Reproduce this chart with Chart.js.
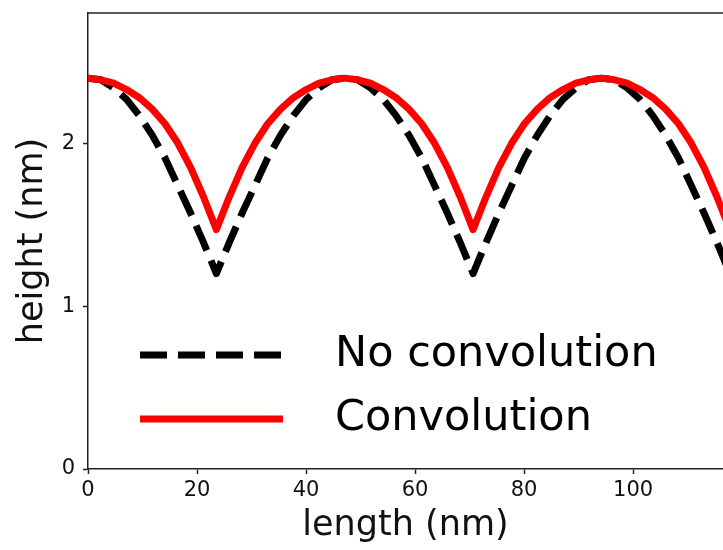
<!DOCTYPE html>
<html>
<head>
<meta charset="utf-8">
<script src="https://cdn.jsdelivr.net/npm/chart.js@4.4.1/dist/chart.umd.min.js"></script>
<style>
  html, body { margin: 0; padding: 0; background: #fff; overflow: hidden; }
  #wrap { width: 723px; height: 550px; position: relative; }
</style>
</head>
<body>
<div id="wrap"><canvas id="c" width="723" height="550"></canvas></div>
<script>
// length (nm) sample positions
const lengthNm = [
  0, 2.36, 4.71, 7.07, 9.42, 11.78, 14.13, 16.49, 18.84, 21.2,
  23.55, 25.91, 28.26, 30.62, 32.97, 35.33, 37.68, 40.04, 42.39, 44.75,
  47.1, 49.46, 51.81, 54.17, 56.52, 58.88, 61.23, 63.59, 65.94, 68.3,
  70.65, 73.01, 75.36, 77.72, 80.07, 82.43, 84.78, 87.14, 89.49, 91.85,
  94.2, 96.56, 98.91, 101.27, 103.62, 105.98, 108.33, 110.69, 113.04, 115.4,
  117.75
];
// height (nm), no convolution
const noConvolution = [
  2.40, 2.39, 2.34, 2.27, 2.17, 2.05, 1.91, 1.74, 1.57, 1.39,
  1.20, 1.39, 1.57, 1.74, 1.91, 2.05, 2.17, 2.27, 2.34, 2.39,
  2.40, 2.39, 2.34, 2.27, 2.17, 2.05, 1.91, 1.74, 1.57, 1.39,
  1.20, 1.39, 1.57, 1.74, 1.91, 2.05, 2.17, 2.27, 2.34, 2.39,
  2.40, 2.39, 2.34, 2.27, 2.17, 2.05, 1.91, 1.74, 1.57, 1.39,
  1.20
];
// height (nm), convolution
const convolution = [
  2.40, 2.39, 2.37, 2.33, 2.28, 2.21, 2.12, 2.00, 1.85, 1.67,
  1.47, 1.67, 1.85, 2.00, 2.12, 2.21, 2.28, 2.33, 2.37, 2.39,
  2.40, 2.39, 2.37, 2.33, 2.28, 2.21, 2.12, 2.00, 1.85, 1.67,
  1.47, 1.67, 1.85, 2.00, 2.12, 2.21, 2.28, 2.33, 2.37, 2.39,
  2.40, 2.39, 2.37, 2.33, 2.28, 2.21, 2.12, 2.00, 1.85, 1.67,
  1.47
];
const seriesLabels = ['No convolution', 'Convolution'];
const xTickValues = [0, 20, 40, 60, 80, 100];
const yTickValues = [0, 1, 2];
const xTitle = 'length (nm)';
const yTitle = 'height (nm)';

const FONT = "'DejaVu Sans', sans-serif";

function toPoints(xs, ys) { return xs.map((x, i) => ({ x: x, y: ys[i] })); }

const topBorder = {
  id: 'topBorder',
  afterDatasetsDraw(chart) {
    const { ctx, chartArea } = chart;
    ctx.save();
    ctx.strokeStyle = '#222';
    ctx.lineWidth = 1.5;
    ctx.beginPath();
    ctx.moveTo(chartArea.left, chartArea.top);
    ctx.lineTo(chartArea.right, chartArea.top);
    ctx.stroke();
    ctx.restore();
  }
};

const insideLegend = {
  id: 'insideLegend',
  afterDraw(chart) {
    const { ctx, chartArea } = chart;
    const x0 = chartArea.left + 52;
    const lineLen = 143;
    const textX = chartArea.left + 247;
    const rows = [chartArea.bottom - 114, chartArea.bottom - 50];
    ctx.save();
    chart.data.datasets.forEach((ds, i) => {
      const y = rows[i];
      ctx.beginPath();
      ctx.setLineDash(ds.borderDash || []);
      ctx.lineWidth = ds.borderWidth;
      ctx.strokeStyle = ds.borderColor;
      ctx.lineCap = 'butt';
      ctx.moveTo(x0, y);
      ctx.lineTo(x0 + lineLen, y);
      ctx.stroke();
      ctx.setLineDash([]);
      ctx.fillStyle = '#000';
      ctx.font = '43px ' + FONT;
      ctx.textBaseline = 'middle';
      ctx.textAlign = 'left';
      ctx.fillText(ds.label, textX, y);
    });
    ctx.restore();
  }
};

new Chart(document.getElementById('c'), {
  type: 'line',
  data: {
    datasets: [
      {
        label: seriesLabels[0],
        data: toPoints(lengthNm, noConvolution),
        borderColor: '#000000',
        borderWidth: 7,
        borderDash: [27, 11],
        borderCapStyle: 'butt',
        borderJoinStyle: 'round',
        pointRadius: 0,
        tension: 0,
        fill: false,
        order: 2
      },
      {
        label: seriesLabels[1],
        data: toPoints(lengthNm, convolution),
        borderColor: '#ff0000',
        borderWidth: 7,
        borderCapStyle: 'round',
        borderJoinStyle: 'round',
        pointRadius: 0,
        tension: 0,
        fill: false,
        order: 1
      }
    ]
  },
  options: {
    responsive: false,
    animation: false,
    layout: { padding: { top: 13, left: 0, right: 0, bottom: 0 } },
    plugins: { legend: { display: false }, tooltip: { enabled: false } },
    scales: {
      x: {
        type: 'linear',
        min: 0,
        max: 116.5,
        afterFit(s) { s.height = 81; s.paddingLeft = 0; s.paddingRight = 0; },
        afterBuildTicks(s) { s.ticks = xTickValues.map(v => ({ value: v })); },
        ticks: { font: { family: FONT, size: 21 }, color: '#111', padding: 4, maxRotation: 0, includeBounds: false },
        grid: { drawOnChartArea: false, drawTicks: true, tickLength: 5, color: '#222', tickWidth: 1.5 },
        border: { display: true, color: '#222', width: 1.5 },
        title: { display: true, text: xTitle, font: { family: FONT, size: 35 }, color: '#111', padding: { top: 0, bottom: 3 } }
      },
      y: {
        type: 'linear',
        min: 0,
        max: 2.8,
        afterFit(s) { s.width = 88; s.paddingTop = 0; s.paddingBottom = 0; },
        afterBuildTicks(s) { s.ticks = yTickValues.map(v => ({ value: v })); },
        ticks: { font: { family: FONT, size: 21 }, color: '#111', padding: 8, includeBounds: false },
        grid: { drawOnChartArea: false, drawTicks: true, tickLength: 5, color: '#222', tickWidth: 1.5 },
        border: { display: true, color: '#222', width: 1.5 },
        title: { display: true, text: yTitle, font: { family: FONT, size: 35 }, color: '#111', padding: { top: 12, bottom: 0 } }
      }
    }
  },
  plugins: [topBorder, insideLegend]
});
</script>
</body>
</html>
